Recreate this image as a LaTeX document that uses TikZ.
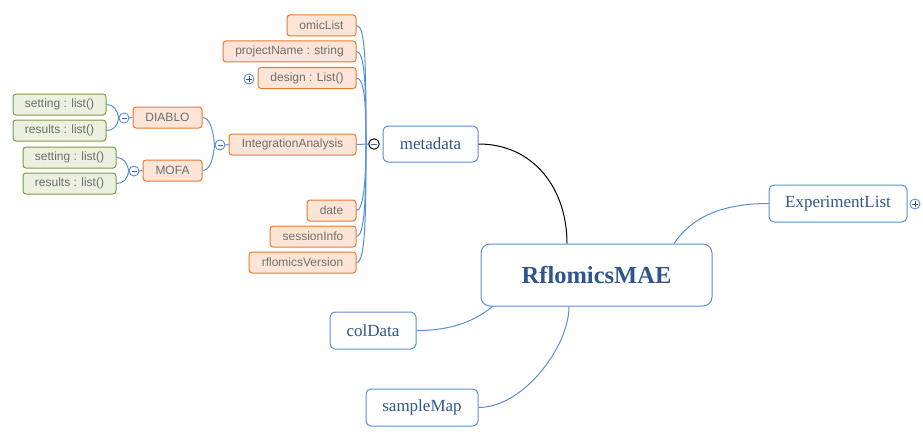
\documentclass[tikz,border=0pt]{standalone}
\usepackage{fontspec}
\setmainfont{Liberation Serif}
\newfontfamily\chf{Liberation Sans}
\usetikzlibrary{calc}
\definecolor{lnblue}{RGB}{88,142,214}
\definecolor{tgblue}{RGB}{60,110,180}
\definecolor{txblue}{RGB}{47,85,140}
\definecolor{orbd}{RGB}{235,122,48}
\definecolor{orfill}{RGB}{252,229,214}
\definecolor{grbd}{RGB}{122,156,66}
\definecolor{grfill}{RGB}{235,241,222}
\definecolor{txgray}{RGB}{110,110,110}
\tikzset{
  mainbox/.style={draw=lnblue, line width=1pt, fill=white, rounded corners=5pt, text=txblue,
    font=\fontsize{17}{20}\selectfont, inner sep=0pt, minimum height=37pt},
  orbox/.style={draw=orbd, fill=orfill, line width=1pt, rounded corners=3pt, text=txgray,
    font=\chf\fontsize{12}{14}\selectfont, inner sep=0pt, minimum height=21pt},
  grbox/.style={draw=grbd, fill=grfill, line width=1pt, rounded corners=3pt, text=txgray,
    font=\chf\fontsize{12}{14}\selectfont, inner sep=0pt, minimum height=21pt},
  link/.style={draw=lnblue, line width=1pt},
  toggle/.style={circle, draw=lnblue, fill=white, line width=0.9pt, minimum size=10pt, inner sep=0pt},
  minustog/.style={toggle, path picture={\draw[tgblue, line width=0.9pt] ($(path picture bounding box.center)+(-2.5,0)$) -- +(5,0);}},
  plustog/.style={toggle, path picture={\draw[txblue, line width=0.9pt] ($(path picture bounding box.center)+(-2.7,0)$) -- +(5.4,0);
     \draw[txblue, line width=0.9pt] ($(path picture bounding box.center)+(0,-2.7)$) -- +(0,5.4);}},
}
\begin{document}
\begin{tikzpicture}[x=1pt,y=-1pt]
\useasboundingbox (0,0) rectangle (923,436);
% main nodes
\node[mainbox, rounded corners=9pt, minimum width=231pt, minimum height=62pt, font=\bfseries\fontsize{24.5}{28}\selectfont] (R) at (596.5,275) {RflomicsMAE};
\node[mainbox, minimum width=95pt, minimum height=36pt] (meta) at (430.5,144) {metadata};
\node[mainbox, minimum width=138pt] (exp) at (838,203.5) {ExperimentList};
\node[mainbox, minimum width=86pt] (col) at (373,330.5) {colData};
\node[mainbox, minimum width=112pt] (smap) at (422,407.5) {sampleMap};
\node[plustog] (texp) at (915,204) {};
% metadata children
\node[orbox, minimum width=69pt] (omic) at (321.5,25.5) {omicList};
\node[orbox, minimum width=133pt] (proj) at (289.5,51.5) {projectName : string};
\node[orbox, minimum width=98pt] (design) at (307,78) {design : List()};
\node[plustog] (tdes) at (249,79) {};
\node[orbox, minimum width=127pt] (ia) at (292.5,144.5) {IntegrationAnalysis};
\node[orbox, minimum width=49pt] (date) at (331.5,210.5) {date};
\node[orbox, minimum width=86pt] (sess) at (313,236.5) {sessionInfo};
\node[orbox, minimum width=107pt] (rver) at (302.5,262.5) {rflomicsVersion};
\node[circle, draw=black, fill=white, line width=1pt, minimum size=10.5pt, inner sep=0pt,
  path picture={\draw[tgblue, line width=0.9pt] ($(path picture bounding box.center)+(-3,0)$) -- +(6,0);}] (tmeta) at (374,144) {};
\coordinate (J) at (366,144);
% integration analysis children
\node[minustog] (tia) at (220,145) {};
\node[orbox, minimum width=69pt] (diablo) at (167.5,117.5) {DIABLO};
\node[orbox, minimum width=59pt] (mofa) at (172.5,170.5) {MOFA};
\node[minustog] (tdia) at (124,118) {};
\node[minustog] (tmofa) at (134,171) {};
\node[grbox, minimum width=93pt] (s1) at (59.5,104.5) {setting : list()};
\node[grbox, minimum width=93pt] (r1) at (59.5,130.5) {results : list()};
\node[grbox, minimum width=93pt] (s2) at (69.5,157.5) {setting : list()};
\node[grbox, minimum width=93pt] (r2) at (69.5,183.5) {results : list()};
% connectors main
\draw[line width=1pt, black] (meta.east) .. controls +(55,0) and +(0,-55) .. ($(R.north)+(-29.5,0)$);
\draw[link] (exp.west) .. controls +(-50,0) and +(16,-24) .. ($(R.north)+(77.5,0)$);
\draw[link] (col.east) .. controls +(40,0) and +(-15,12) .. ($(R.south west)+(12,0)$);
\draw[link] (smap.east) .. controls +(45,0) and +(0,40) .. ($(R.south)+(-27.5,0)$);
% metadata fan
\draw[link] (omic.east) .. controls +(9,0) and +(0,-80) .. (J);
\draw[link] (proj.east) .. controls +(8,0) and +(0,-60) .. (J);
\draw[link] (design.east) .. controls +(8,0) and +(0,-40) .. (J);
\draw[link] (date.east) .. controls +(7,0) and +(0,35) .. (J);
\draw[link] (sess.east) .. controls +(8,0) and +(0,55) .. (J);
\draw[link] (rver.east) .. controls +(9,0) and +(0,70) .. (J);
\draw[link] (ia.east) -- (tmeta.west);
% IA fan
\draw[link] (diablo.east) .. controls +(8,0) and +(-1,-12) .. (tia.west);
\draw[link] (mofa.east) .. controls +(8,0) and +(-1,12) .. (tia.west);
\draw[link] (ia.west) -- (tia.east);
% DIABLO / MOFA fans
\draw[link] (s1.east) .. controls +(7,0) and +(-1,-8) .. (tdia.west);
\draw[link] (r1.east) .. controls +(7,0) and +(-1,8) .. (tdia.west);
\draw[link] (diablo.west) -- (tdia.east);
\draw[link] (s2.east) .. controls +(7,0) and +(-1,-8) .. (tmofa.west);
\draw[link] (r2.east) .. controls +(7,0) and +(-1,8) .. (tmofa.west);
\draw[link] (mofa.west) -- (tmofa.east);
\end{tikzpicture}
\end{document}
